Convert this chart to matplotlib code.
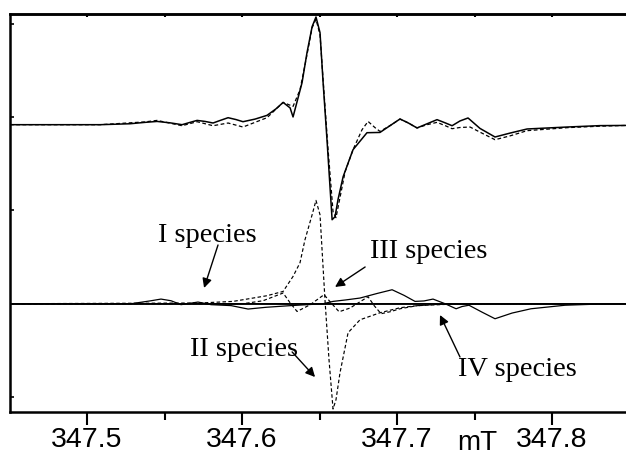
import matplotlib.pyplot as plt

# --- upper pair: experimental (solid) and simulated (dashed) spectra ---
exp_field = [347.4503, 347.5084, 347.5277, 347.5374, 347.5452, 347.5535, 347.5613,
             347.5665, 347.5710, 347.5761, 347.5813, 347.5858, 347.5910, 347.5961,
             347.6006, 347.6084, 347.6161, 347.6219, 347.6265, 347.6310, 347.6329,
             347.6387, 347.6419, 347.6452, 347.6477, 347.6503, 347.6523, 347.6548,
             347.6581, 347.6600, 347.6619, 347.6652, 347.6716, 347.6806, 347.6890,
             347.6955, 347.7019, 347.7071, 347.7129, 347.7194, 347.7258, 347.7310,
             347.7355, 347.7406, 347.7458, 347.7535, 347.7632, 347.7729, 347.7839,
             347.8097, 347.8310, 347.8477]
exp_signal = [0.0, 0.0, 0.01, 0.025, 0.035, 0.02, 0.0,
              0.025, 0.046, 0.035, 0.018, 0.045, 0.075, 0.055,
              0.032, 0.06, 0.10, 0.17, 0.239, 0.18, 0.083,
              0.45, 0.772, 1.051, 1.155, 0.987, 0.45, -0.161,
              -1.019, -0.987, -0.804, -0.558, -0.268, -0.086, -0.083,
              -0.01, 0.061, 0.02, -0.035, 0.01, 0.054, 0.02,
              -0.011, 0.04, 0.072, -0.04, -0.132, -0.09, -0.046,
              -0.025, -0.01, -0.008]

sim_field = [347.4503, 347.5084, 347.5374, 347.5452, 347.5613, 347.5710, 347.5813,
             347.5910, 347.6006, 347.6161, 347.6265, 347.6329, 347.6374, 347.6419,
             347.6452, 347.6477, 347.6503, 347.6523, 347.6555, 347.6587, 347.6606,
             347.6632, 347.6665, 347.6716, 347.6774, 347.6813, 347.6858, 347.6890,
             347.6955, 347.7019, 347.7071, 347.7129, 347.7194, 347.7258, 347.7310,
             347.7355, 347.7406, 347.7471, 347.7535, 347.7632, 347.7729, 347.7839,
             347.8097, 347.8310, 347.8477]
sim_signal = [0.0, 0.0, 0.03, 0.046, -0.011, 0.032, -0.011,
              0.018, -0.025, 0.075, 0.239, 0.196, 0.375, 0.75,
              1.04, 1.13, 0.965, 0.48, -0.268, -0.933, -0.997,
              -0.78, -0.504, -0.268, -0.054, 0.035, -0.032, -0.072,
              -0.01, 0.061, 0.02, -0.035, 0.0, 0.025, -0.01,
              -0.043, -0.03, -0.025, -0.08, -0.161, -0.12, -0.064,
              -0.032, -0.016, -0.008]

# --- lower set: individual species components ---
sp1_field = [347.4503, 347.5284, 347.5413, 347.5477, 347.5542, 347.5606, 347.5716,
             347.5800, 347.5929, 347.6039, 347.6155, 347.6316, 347.6523, 347.8477]
sp1_signal = [0.0, 0.0, 0.032, 0.05, 0.032, -0.01, 0.018,
              -0.01, -0.02, -0.057, -0.038, -0.02, 0.0, 0.0]

sp2_field = [347.4503, 347.5729, 347.5942, 347.6161, 347.6265, 347.6329, 347.6374,
             347.6406, 347.6452, 347.6477, 347.6503, 347.6535, 347.6561, 347.6587,
             347.6606, 347.6632, 347.6684, 347.6761, 347.6890, 347.7019, 347.7129,
             347.7342, 347.8477]
sp2_signal = [0.0, 0.008, 0.025, 0.086, 0.132, 0.293, 0.44,
              0.686, 0.954, 1.108, 0.954, 0.043, -0.6, -1.129,
              -1.03, -0.74, -0.311, -0.172, -0.097, -0.043, -0.021,
              -0.005, 0.0]

sp3_field = [347.4503, 347.6006, 347.6135, 347.6265, 347.6310, 347.6355, 347.6439,
             347.6529, 347.6574, 347.6626, 347.6697, 347.6813, 347.6852, 347.6897,
             347.6955, 347.7019, 347.7129, 347.7277, 347.8477]
sp3_signal = [0.0, 0.0, 0.032, 0.115, 0.01, -0.083, -0.011,
              0.097, 0.01, -0.086, -0.046, 0.075, -0.02, -0.107,
              -0.086, -0.054, -0.021, -0.005, 0.0]

sp4_field = [347.4503, 347.6523, 347.6587, 347.6665, 347.6761, 347.6871, 347.6968,
             347.7045, 347.7116, 347.7174, 347.7232, 347.7310, 347.7381, 347.7419,
             347.7464, 347.7548, 347.7632, 347.7742, 347.7864, 347.8084, 347.8310,
             347.8477]
sp4_signal = [0.0, 0.0, 0.025, 0.04, 0.061, 0.11, 0.15,
              0.09, 0.025, 0.03, 0.05, 0.0, -0.054, -0.03,
              -0.016, -0.09, -0.161, -0.1, -0.054, -0.016, -0.003,
              0.0]

ticks = [347.5, 347.6, 347.7, 347.8]
tick_labels = ["347.5", "347.6", "347.7", "347.8"]
minor_ticks = [347.55, 347.65, 347.75]

upper_base = 2.92
lower_base = 1.0

fig = plt.figure(figsize=(6.26, 4.55), dpi=100)
ax = fig.add_axes([10 / 626, 1 - 412 / 455, 1 - 10 / 626, 398 / 455])

dash = (0, (3, 2))
ax.plot(exp_field, [v + upper_base for v in exp_signal], color="k", lw=1.1)
ax.plot(sim_field, [v + upper_base for v in sim_signal], color="k", lw=0.9, ls=dash)

ax.axhline(lower_base, color="k", lw=1.3)
ax.plot(sp1_field, [v + lower_base for v in sp1_signal], color="k", lw=0.9)
ax.plot(sp4_field, [v + lower_base for v in sp4_signal], color="k", lw=0.9)
ax.plot(sp2_field, [v + lower_base for v in sp2_signal], color="k", lw=0.85, ls=dash)
ax.plot(sp3_field, [v + lower_base for v in sp3_signal], color="k", lw=0.85, ls=dash)

ax.set_xlim(347.4503, 347.8477)
ax.set_ylim(-0.161, 4.107)

serif = dict(family="Liberation Serif", size=20.5)
arrow = dict(arrowstyle="-|>", color="k", lw=1.0, mutation_scale=14,
             shrinkA=0, shrinkB=0)
ax.text(347.5774, 1.737, "I species", ha="center", va="center", **serif)
ax.annotate("", xy=(347.5755, 1.169), xytext=(347.5845, 1.630), arrowprops=arrow)
ax.text(347.7206, 1.555, "III species", ha="center", va="center", **serif)
ax.annotate("", xy=(347.6600, 1.180), xytext=(347.6794, 1.394), arrowprops=arrow)
ax.text(347.6013, 0.504, "II species", ha="center", va="center", **serif)
ax.annotate("", xy=(347.6471, 0.214), xytext=(347.6323, 0.483), arrowprops=arrow)
ax.text(347.7774, 0.300, "IV species", ha="center", va="center", **serif)
ax.annotate("", xy=(347.7277, 0.879), xytext=(347.7406, 0.429), arrowprops=arrow)

ax.set_xticks(ticks)
ax.set_xticklabels(tick_labels, family="Liberation Sans", fontsize=20.5)
ax.set_xticks(minor_ticks, minor=True)
ax.tick_params(axis="x", which="major", direction="out", length=9, width=1.5, pad=2)
ax.tick_params(axis="x", which="minor", direction="out", length=6, width=1.5)
ax.set_yticks([0, 1, 2, 3, 4])
ax.set_yticklabels([])
ax.tick_params(axis="y", direction="in", length=3, width=1.2)

# short inward ticks along the top frame
top = ax.secondary_xaxis("top")
top.set_xticks(ticks + minor_ticks)
top.set_xticklabels([])
top.tick_params(direction="in", length=2.5, width=1.5)
top.spines["top"].set_linewidth(1.8)

for side in ["left", "top", "bottom"]:
    ax.spines[side].set_linewidth(1.8)
ax.spines["right"].set_visible(False)

fig.text(477 / 626, 1 - 443 / 455, "mT", family="Liberation Sans", fontsize=20,
         ha="center", va="center")

fig.savefig("out.png", dpi=100)
